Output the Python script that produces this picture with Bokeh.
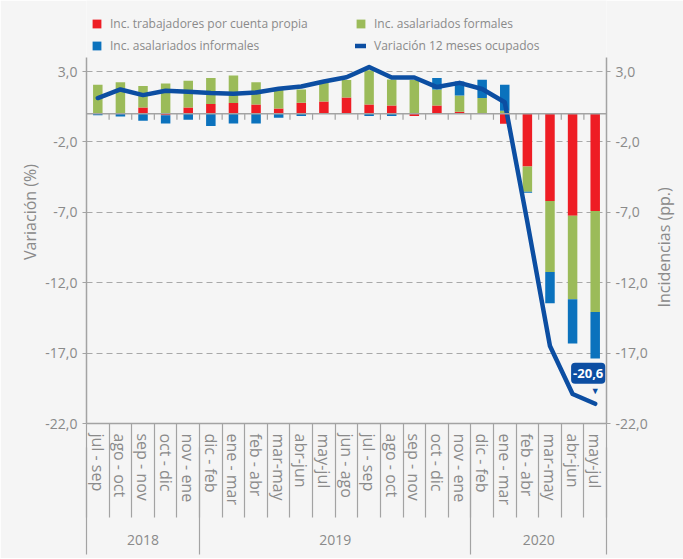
import math
import numpy as np
from bokeh.plotting import figure
from bokeh.models import (Range1d, FixedTicker, LinearAxis, Legend, LegendItem, Label, Span)
from bokeh.embed import file_html
from bokeh.resources import INLINE

# ---------------- data ----------------
periods = ["jul - sep", "ago - oct", "sep - nov", "oct - dic", "nov - ene",
           "dic - feb", "ene - mar", "feb - abr", "mar-may", "abr-jun", "may-jul",
           "jun - ago", "jul - sep", "ago - oct", "sep - nov", "oct - dic", "nov - ene",
           "dic - feb", "ene - mar", "feb - abr", "mar-may", "abr-jun", "may-jul"]
years = ["2018"] * 5 + ["2019"] * 12 + ["2020"] * 6

propia = [0.0, 0.0, 0.45, -0.1, 0.45, 0.69, 0.76, 0.66, 0.38, 0.78, 0.87, 1.16,
          0.66, 0.59, -0.16, 0.59, 0.14, 0.05, -0.7, -3.75, -6.19, -7.25, -6.9]
formales = [2.06, 2.25, 1.52, 2.15, 1.9, 1.85, 1.96, 1.59, 1.31, 0.95, 1.33, 1.24,
            2.44, 1.85, 2.4, 1.14, 1.16, 1.07, 0.21, -1.78, -5.05, -5.93, -7.18]
informales = [-0.1, -0.2, -0.5, -0.59, -0.43, -0.87, -0.69, -0.69, -0.28, -0.16, 0.0, 0.0,
              -0.16, -0.16, 0.0, 0.81, 1.0, 1.3, 1.85, -0.07, -2.22, -3.13, -3.3]
variacion = [1.12, 1.73, 1.33, 1.64, 1.56, 1.47, 1.42, 1.52, 1.78, 1.94, 2.3, 2.6,
             3.32, 2.58, 2.58, 1.9, 2.2, 1.76, 0.82, -7.7, -16.5, -19.9, -20.6]

y_ticks = [3.0, -2.0, -7.0, -12.0, -17.0, -22.0]

series_names = ["Inc. trabajadores por cuenta propia", "Inc. asalariados formales",
                "Inc. asalariados informales"]
line_name = "Variación 12 meses ocupados"
left_title = "Variación (%)"
right_title = "Incidencias (pp.)"

# ---------------- style ----------------
FONT = "Open Sans"
GREY = "#8a8a8a"
AXIS = "#a3a3a3"
BG = "#f5f5f5"
COLORS = ["#ee1d24", "#9bbb59", "#0b72bd"]
LINE = "#0c4ea2"
Y0, Y1 = -22, 4            # visible value axis
PLOT_H = 366               # pixel height of the value axis
TOP_SPACE = 57             # room for the legend above the value axis (inside the frame)
FRAME_W = 520
FRAME_H = PLOT_H + TOP_SPACE
PX = (Y1 - Y0) / PLOT_H    # value units per pixel
Y_TOP = Y1 + TOP_SPACE * PX
RIGHT_TITLE_START_PX = 250  # where the right title starts, measured down from the top of the value axis


def fmt(v):
    return f"{v:.1f}".replace(".", ",")


n = len(periods)
xs = np.arange(n)

# stacking: positive parts upward, negative parts downward, in series order
series = [np.array(propia), np.array(formales), np.array(informales)]
pos_base = np.zeros(n)
neg_base = np.zeros(n)
bottoms, tops = [], []
for s in series:
    pos = s >= 0
    b = np.where(pos, pos_base, neg_base)
    t = b + s
    pos_base = np.where(pos, t, pos_base)
    neg_base = np.where(pos, neg_base, t)
    bottoms.append(b)
    tops.append(t)

p = figure(frame_width=FRAME_W, frame_height=FRAME_H,
           x_range=Range1d(-0.5, n - 0.5), y_range=Range1d(Y0, Y_TOP),
           output_backend="svg", toolbar_location=None,
           min_border_left=86, min_border_right=76,
           min_border_top=0, min_border_bottom=135)
p.background_fill_color = BG
p.border_fill_color = BG
p.outline_line_color = None
p.xgrid.visible = False

tick_over = {t: fmt(t) for t in y_ticks}

# grid
p.ygrid.ticker = FixedTicker(ticks=[t for t in y_ticks if t != min(y_ticks)])
p.ygrid.grid_line_color = "#a8a8a8"
p.ygrid.grid_line_dash = "6 4"
p.ygrid.grid_line_width = 1.2


def style_y(ax):
    ax.bounds = (Y0, Y1)
    ax.axis_line_color = AXIS
    ax.axis_line_width = 1.5
    ax.major_tick_line_color = AXIS
    ax.major_tick_out = 4
    ax.major_tick_in = 0
    ax.minor_tick_line_color = None
    ax.major_label_standoff = 5
    ax.major_label_text_font = FONT
    ax.major_label_text_font_size = "14px"
    ax.major_label_text_color = GREY
    ax.axis_label_text_font = FONT
    ax.axis_label_text_font_size = "16px"
    ax.axis_label_text_font_style = "normal"
    ax.axis_label_text_color = GREY


# left axis
la = p.yaxis[0]
la.ticker = FixedTicker(ticks=y_ticks)
la.major_label_overrides = tick_over
style_y(la)
la.axis_label = left_title
la.axis_label_standoff = 1

# right axis
ra = LinearAxis(ticker=FixedTicker(ticks=y_ticks), major_label_overrides=tick_over)
style_y(ra)
p.add_layout(ra, "right")

# right title: a bare axis whose single label reads bottom-to-top
t_val = Y1 - RIGHT_TITLE_START_PX * PX
ta = LinearAxis(ticker=FixedTicker(ticks=[t_val]), major_label_overrides={t_val: right_title})
ta.axis_line_color = None
ta.major_tick_out = 0
ta.major_tick_in = 0
ta.minor_tick_line_color = None
ta.major_label_orientation = math.pi / 2
ta.major_label_standoff = 13
ta.major_label_text_font = FONT
ta.major_label_text_font_size = "16px"
ta.major_label_text_color = GREY
p.add_layout(ta, "right")

# category axis (bottom): labels at centres, separators at every boundary
bounds_all = [i - 0.5 for i in range(n + 1)]
xa = p.xaxis[0]
xa.ticker = FixedTicker(ticks=list(range(n)), minor_ticks=bounds_all)
xa.major_label_overrides = {i: lab for i, lab in enumerate(periods)}
xa.major_label_orientation = "vertical"
xa.major_tick_out = 0
xa.major_tick_in = 0
xa.minor_tick_out = 94
xa.minor_tick_in = 0
xa.minor_tick_line_color = AXIS
xa.minor_tick_line_width = 1.2
xa.axis_line_color = AXIS
xa.axis_line_width = 1.5
xa.major_label_standoff = -84
xa.major_label_text_font = FONT
xa.major_label_text_font_size = "16px"
xa.major_label_text_color = GREY

# year axis: labels at group centres, long separators at group boundaries
year_names = []
for yv in years:
    if yv not in year_names:
        year_names.append(yv)
centers, ybounds = [], [-0.5]
for yn in year_names:
    idx = [i for i, yv in enumerate(years) if yv == yn]
    centers.append((idx[0] + idx[-1]) / 2)
    ybounds.append(idx[-1] + 0.5)
ya = LinearAxis(ticker=FixedTicker(ticks=centers, minor_ticks=ybounds),
                major_label_overrides={c: yn for c, yn in zip(centers, year_names)})
ya.axis_line_color = None
ya.major_tick_out = 0
ya.major_tick_in = 0
ya.minor_tick_in = 60
ya.minor_tick_out = 47
ya.minor_tick_line_color = AXIS
ya.minor_tick_line_width = 1.2
ya.major_label_standoff = -20
ya.major_label_text_font = FONT
ya.major_label_text_font_size = "14px"
ya.major_label_text_color = GREY
p.add_layout(ya, "below")

# bars
renderers = []
for b, t, c in zip(bottoms, tops, COLORS):
    r = p.vbar(x=xs, bottom=b, top=t, width=0.42, fill_color=c, line_color=None)
    renderers.append(r)

# zero baseline with short ticks between categories (6 px downward)
p.add_layout(Span(location=0, dimension="width", line_color=AXIS, line_width=1.5))
tick_len = 6 * PX
p.segment(x0=bounds_all, x1=bounds_all, y0=[0] * len(bounds_all),
          y1=[-tick_len] * len(bounds_all), line_color=AXIS, line_width=1.2)

# line
lr = p.line(xs, variacion, line_color=LINE, line_width=4.5, line_join="round", line_cap="round")

# legend (2 x 2) in the space above the value axis
items = [LegendItem(label=series_names[0], renderers=[renderers[0]]),
         LegendItem(label=series_names[1], renderers=[renderers[1]]),
         LegendItem(label=series_names[2], renderers=[renderers[2]]),
         LegendItem(label=line_name, renderers=[lr])]
legend = Legend(items=items, orientation="horizontal", ncols=2, location=(5, FRAME_H - 54),
                margin=0, padding=4, spacing=5, glyph_width=11, glyph_height=11,
                label_height=17, label_width=240, label_standoff=8,
                label_text_font=FONT, label_text_font_size="12px", label_text_color=GREY,
                background_fill_alpha=0, border_line_color=None)
p.add_layout(legend)

# callout for the last value
last = n - 1
p.add_layout(Label(x=last, y=variacion[-1], text=fmt(variacion[-1]), y_offset=20, x_offset=-7,
                   text_align="center", text_baseline="bottom", text_color="white",
                   text_font=FONT, text_font_size="13px", text_font_style="bold",
                   background_fill_color=LINE, padding=(2, 6), border_radius=4))
p.add_layout(Label(x=last, y=variacion[-1], text="▼", y_offset=8,
                   text_align="center", text_baseline="bottom", text_color=LINE,
                   text_font_size="9px"))

open("out.html", "w").write(file_html(p, INLINE))
